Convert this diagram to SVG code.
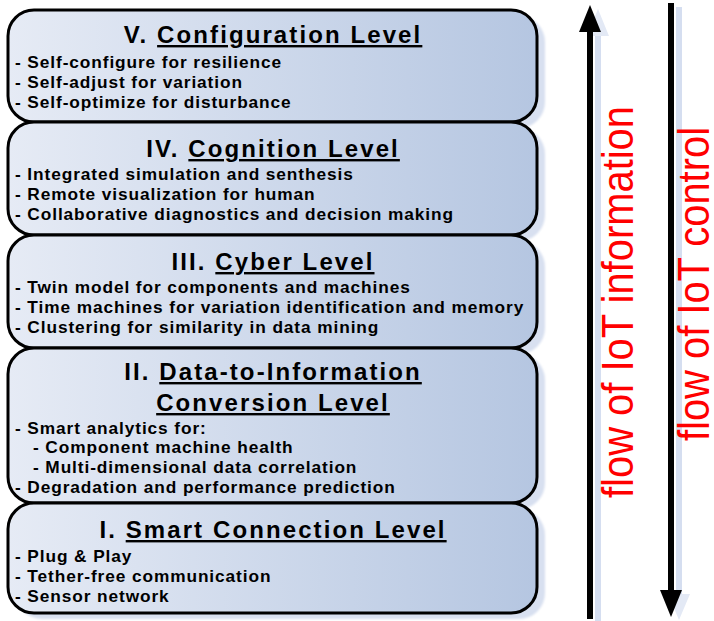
<svg xmlns="http://www.w3.org/2000/svg" width="714" height="621" viewBox="0 0 714 621">
<defs>
<linearGradient id="fillg" x1="0" y1="0" x2="1" y2="0">
<stop offset="0" stop-color="#e6ebf5"/>
<stop offset="1" stop-color="#b5c6e1"/>
</linearGradient>
<filter id="blur" x="-5%" y="-5%" width="110%" height="110%"><feGaussianBlur stdDeviation="1.2"/></filter>
</defs>
<style>
.box{fill:url(#fillg);stroke:#000;stroke-width:3}
.shadow{fill:#d8e0f0;stroke:none}
.title{font-family:"Liberation Sans",Arial,sans-serif;font-weight:bold;font-size:24px;letter-spacing:2.1px;text-anchor:middle;fill:#000}
.u{text-decoration:underline}
.item{font-family:"Liberation Sans",Arial,sans-serif;font-weight:bold;font-size:17.3px;letter-spacing:0.9px;fill:#000}
.flow{font-family:"Liberation Sans",Arial,sans-serif;font-size:44px;fill:#ff0000}
.shaft{stroke:#000;stroke-width:6;fill:none}
.shaftS{stroke:#d5def0;stroke-width:6;fill:none}
</style>
<g id="shadows" filter="url(#blur)">
<rect class="shadow" x="16" y="16" width="529" height="112" rx="26"/>
<rect class="shadow" x="16" y="128" width="529" height="113" rx="26"/>
<rect class="shadow" x="16" y="241" width="529" height="113" rx="26"/>
<rect class="shadow" x="16" y="354" width="529" height="155" rx="26"/>
<rect class="shadow" x="16" y="509" width="529" height="110" rx="26"/>
</g>
<g id="level5">
<rect class="box" x="8" y="10" width="529" height="112" rx="26"/>
<text class="title" x="273" y="43">V. <tspan class="u">Configuration Level</tspan></text>
<text class="item" x="15" y="68">- Self-configure for resilience</text>
<text class="item" x="15" y="88">- Self-adjust for variation</text>
<text class="item" x="15" y="108">- Self-optimize for disturbance</text>
</g>
<g id="level4">
<rect class="box" x="8" y="122" width="529" height="113" rx="26"/>
<text class="title" x="273" y="157">IV. <tspan class="u">Cognition Level</tspan></text>
<text class="item" x="15" y="180">- Integrated simulation and senthesis</text>
<text class="item" x="15" y="200">- Remote visualization for human</text>
<text class="item" x="15" y="220">- Collaborative diagnostics and decision making</text>
</g>
<g id="level3">
<rect class="box" x="8" y="235" width="529" height="113" rx="26"/>
<text class="title" x="273" y="270">III. <tspan class="u">Cyber Level</tspan></text>
<text class="item" x="15" y="293">- Twin model for components and machines</text>
<text class="item" x="15" y="313">- Time machines for variation identification and memory</text>
<text class="item" x="15" y="333">- Clustering for similarity in data mining</text>
</g>
<g id="level2">
<rect class="box" x="8" y="348" width="529" height="155" rx="26"/>
<text class="title" x="273" y="380">II. <tspan class="u">Data-to-Information</tspan></text>
<text class="title" x="273" y="411"><tspan class="u">Conversion Level</tspan></text>
<text class="item" x="15" y="434">- Smart analytics for:</text>
<text class="item" x="33" y="453">- Component machine health</text>
<text class="item" x="33" y="473">- Multi-dimensional data correlation</text>
<text class="item" x="15" y="493">- Degradation and performance prediction</text>
</g>
<g id="level1">
<rect class="box" x="8" y="503" width="529" height="110" rx="26"/>
<text class="title" x="273" y="538">I. <tspan class="u">Smart Connection Level</tspan></text>
<text class="item" x="15" y="562">- Plug &amp; Play</text>
<text class="item" x="15" y="582">- Tether-free communication</text>
<text class="item" x="15" y="602">- Sensor network</text>
</g>
<g id="connectors">
<g id="arrow-up">
<line class="shaftS" x1="598" y1="621" x2="598" y2="34"/>
<polygon points="598,9 587,36 609,36" fill="#e3e9f5"/>
<line class="shaft" x1="590" y1="619" x2="590" y2="30"/>
<polygon points="590,5 579,32 601,32" fill="#000"/>
</g>
<g id="arrow-down">
<line class="shaftS" x1="679" y1="7" x2="679" y2="596"/>
<polygon points="668,594 690,594 679,620" fill="#e3e9f5"/>
<line class="shaft" x1="671" y1="3" x2="671" y2="592"/>
<polygon points="660,590 682,590 671,617" fill="#000"/>
</g>
</g>
<g id="labels">
<text class="flow" transform="translate(633,498) rotate(-90)" textLength="392" lengthAdjust="spacingAndGlyphs">flow of IoT information</text>
<text class="flow" transform="translate(709,441) rotate(-90)" textLength="314" lengthAdjust="spacingAndGlyphs">flow of IoT control</text>
</g>
</svg>
